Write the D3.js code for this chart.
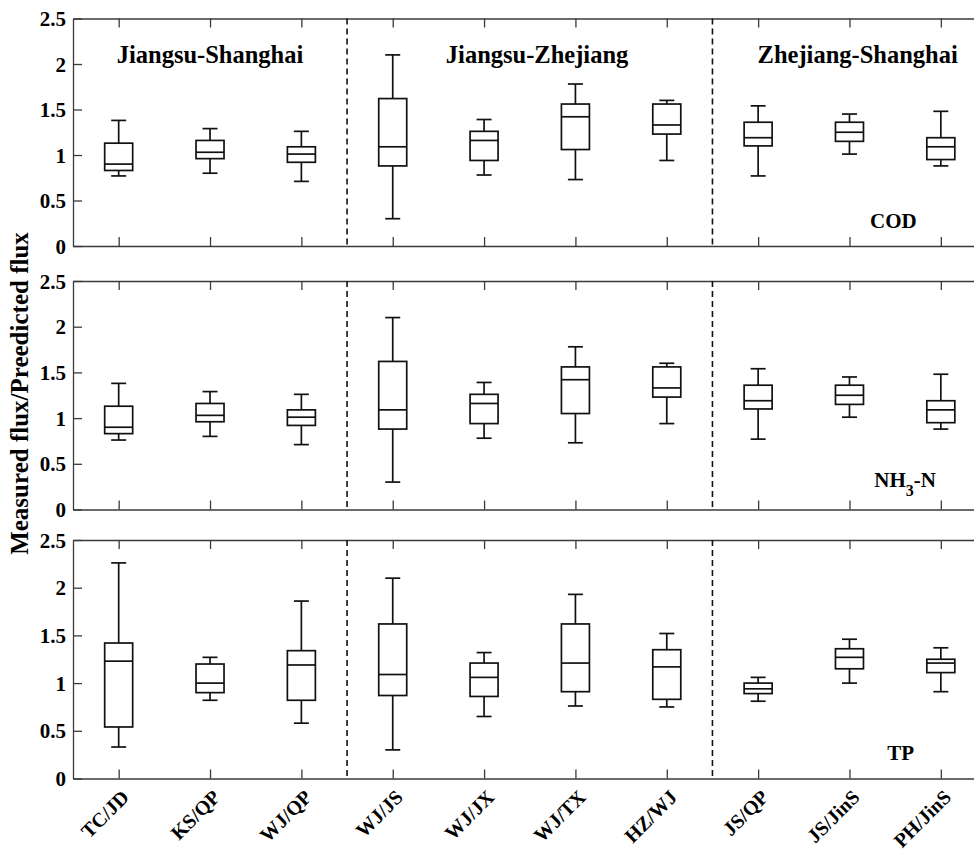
<!DOCTYPE html>
<html>
<head>
<meta charset="utf-8">
<script src="https://cdn.jsdelivr.net/npm/d3@7"></script>
<style>
  html, body { margin: 0; padding: 0; background: #fff; }
  svg { display: block; }
  text { font-family: "Liberation Serif", "Times New Roman", serif; font-weight: bold; fill: #000; }
</style>
</head>
<body>
<svg id="chart" width="974" height="851"></svg>
<script>
// ---------- DATA ----------
const categories = ["TC/JD", "KS/QP", "WJ/QP", "WJ/JS", "WJ/JX", "WJ/TX", "HZ/WJ", "JS/QP", "JS/JinS", "PH/JinS"];
const regionNames = ["Jiangsu-Shanghai", "Jiangsu-Zhejiang", "Zhejiang-Shanghai"];
const yTickValues = [0, 0.5, 1, 1.5, 2, 2.5];

// COD
const codLow  = [0.77, 0.80, 0.71, 0.30, 0.78, 0.73, 0.94, 0.77, 1.01, 0.88];
const codQ1   = [0.83, 0.96, 0.92, 0.88, 0.94, 1.06, 1.23, 1.10, 1.15, 0.95];
const codMed  = [0.90, 1.03, 1.01, 1.09, 1.16, 1.42, 1.33, 1.19, 1.25, 1.09];
const codQ3   = [1.13, 1.16, 1.09, 1.62, 1.26, 1.56, 1.56, 1.36, 1.36, 1.19];
const codHigh = [1.38, 1.29, 1.26, 2.10, 1.39, 1.78, 1.60, 1.54, 1.45, 1.48];

// NH3-N
const nhLow  = [0.76, 0.80, 0.71, 0.30, 0.78, 0.73, 0.94, 0.77, 1.01, 0.88];
const nhQ1   = [0.83, 0.96, 0.92, 0.88, 0.94, 1.05, 1.23, 1.10, 1.15, 0.95];
const nhMed  = [0.90, 1.03, 1.01, 1.09, 1.16, 1.42, 1.33, 1.19, 1.25, 1.09];
const nhQ3   = [1.13, 1.16, 1.09, 1.62, 1.26, 1.56, 1.56, 1.36, 1.36, 1.19];
const nhHigh = [1.38, 1.29, 1.26, 2.10, 1.39, 1.78, 1.60, 1.54, 1.45, 1.48];

// TP
const tpLow  = [0.33, 0.82, 0.58, 0.30, 0.65, 0.76, 0.75, 0.81, 1.00, 0.91];
const tpQ1   = [0.54, 0.90, 0.82, 0.87, 0.86, 0.91, 0.83, 0.89, 1.15, 1.11];
const tpMed  = [1.23, 1.00, 1.19, 1.09, 1.06, 1.21, 1.17, 0.94, 1.27, 1.21];
const tpQ3   = [1.42, 1.20, 1.34, 1.62, 1.21, 1.62, 1.35, 1.00, 1.36, 1.25];
const tpHigh = [2.26, 1.27, 1.86, 2.10, 1.32, 1.93, 1.52, 1.06, 1.46, 1.37];

const groupBreaks = [3.5, 7.5];

// ---------- LAYOUT ----------
const svg = d3.select("#chart");
svg.append("rect").attr("width", 974).attr("height", 851).attr("fill", "#fff");

const x = d3.scaleLinear().domain([0.5, 10.5]).range([73, 986.5]);

const panels = [
  { top: 18.5, bottom: 246,   low: codLow, q1: codQ1, med: codMed, q3: codQ3, high: codHigh, label: "COD" },
  { top: 281,  bottom: 509.5, low: nhLow,  q1: nhQ1,  med: nhMed,  q3: nhQ3,  high: nhHigh,  label: "NH3-N" },
  { top: 540,  bottom: 778.5, low: tpLow,  q1: tpQ1,  med: tpMed,  q3: tpQ3,  high: tpHigh,  label: "TP" }
];

const boxW = 28, capW = 15;
const axisColor = "#3a3a3a";

panels.forEach((p, pi) => {
  const y = d3.scaleLinear().domain([0, 2.5]).range([p.bottom, p.top]);
  const g = svg.append("g");

  // left axis
  const ya = g.append("g").attr("transform", `translate(${x(0.5)},0)`)
    .call(d3.axisLeft(y).tickValues(yTickValues).tickSize(-9).tickSizeOuter(0).tickPadding(7)
      .tickFormat(d => String(d)));
  ya.selectAll("text").attr("font-size", 21).attr("dy", "0.34em");

  // bottom axis
  const xa = g.append("g").attr("transform", `translate(0,${p.bottom})`)
    .call(d3.axisBottom(x).tickValues(d3.range(1, 11)).tickSize(-9).tickSizeOuter(0)
      .tickFormat((d, i) => pi === 2 ? categories[i] : ""));
  xa.selectAll("text")
    .attr("font-size", 20)
    .attr("text-anchor", "end")
    .attr("dy", "0.35em")
    .attr("y", 0)
    .attr("transform", "translate(6,15) rotate(-45)");

  // top axis
  g.append("g").attr("transform", `translate(0,${p.top})`)
    .call(d3.axisTop(x).tickValues(d3.range(1, 11)).tickSize(-9).tickSizeOuter(0).tickFormat(""));

  // right axis line
  g.append("line").attr("x1", x(10.5)).attr("x2", x(10.5)).attr("y1", p.top).attr("y2", p.bottom);

  g.selectAll(".domain, .tick line").attr("stroke", axisColor).attr("stroke-width", 1.3);
  g.selectAll("line").filter(function() { return !this.getAttribute("stroke"); })
    .attr("stroke", axisColor).attr("stroke-width", 1.3);

  // group separators
  g.selectAll(".sep").data(groupBreaks).join("line")
    .attr("x1", d => x(d)).attr("x2", d => x(d))
    .attr("y1", p.top).attr("y2", p.bottom)
    .attr("stroke", "#111").attr("stroke-width", 1.6).attr("stroke-dasharray", "6,4");

  // boxes
  const bx = g.selectAll(".box").data(categories).join("g").attr("class", "box");
  const line = (sel) => sel.attr("stroke", "#111").attr("stroke-width", 1.7).attr("fill", "none");
  bx.append("line").call(line)
    .attr("x1", (d, i) => x(i + 1)).attr("x2", (d, i) => x(i + 1))
    .attr("y1", (d, i) => y(p.high[i])).attr("y2", (d, i) => y(p.q3[i]));
  bx.append("line").call(line)
    .attr("x1", (d, i) => x(i + 1)).attr("x2", (d, i) => x(i + 1))
    .attr("y1", (d, i) => y(p.q1[i])).attr("y2", (d, i) => y(p.low[i]));
  bx.append("line").call(line)
    .attr("x1", (d, i) => x(i + 1) - capW / 2).attr("x2", (d, i) => x(i + 1) + capW / 2)
    .attr("y1", (d, i) => y(p.high[i])).attr("y2", (d, i) => y(p.high[i]));
  bx.append("line").call(line)
    .attr("x1", (d, i) => x(i + 1) - capW / 2).attr("x2", (d, i) => x(i + 1) + capW / 2)
    .attr("y1", (d, i) => y(p.low[i])).attr("y2", (d, i) => y(p.low[i]));
  bx.append("rect").call(line)
    .attr("x", (d, i) => x(i + 1) - boxW / 2).attr("width", boxW)
    .attr("y", (d, i) => y(p.q3[i])).attr("height", (d, i) => y(p.q1[i]) - y(p.q3[i]));
  bx.append("line").call(line)
    .attr("x1", (d, i) => x(i + 1) - boxW / 2).attr("x2", (d, i) => x(i + 1) + boxW / 2)
    .attr("y1", (d, i) => y(p.med[i])).attr("y2", (d, i) => y(p.med[i]));

  // region titles (top panel only)
  if (pi === 0) {
    const titlePos = [2.0, 5.58, 9.09];
    g.selectAll(".rt").data(regionNames).join("text")
      .attr("x", (d, i) => x(titlePos[i])).attr("y", y(2.01))
      .attr("text-anchor", "middle").attr("font-size", 24.5).text(d => d);
  }

  // pollutant label
  if (p.label === "NH3-N") {
    const t = g.append("text").attr("x", x(9.61)).attr("y", y(0.25))
      .attr("text-anchor", "middle").attr("font-size", 21);
    t.append("tspan").text("NH");
    t.append("tspan").attr("font-size", 16).attr("dy", 9).text("3");
    t.append("tspan").attr("dy", -9).text("-N");
  } else {
    g.append("text").attr("x", x(p.label === "COD" ? 9.48 : 9.56)).attr("y", y(p.label === "COD" ? 0.198 : 0.194))
      .attr("text-anchor", "middle").attr("font-size", 21).text(p.label);
  }
});

// y axis title
svg.append("text")
  .attr("transform", "translate(28,393.5) rotate(-90)")
  .attr("text-anchor", "middle").attr("font-size", 25)
  .text("Measured flux/Preedicted flux");
</script>
</body>
</html>
